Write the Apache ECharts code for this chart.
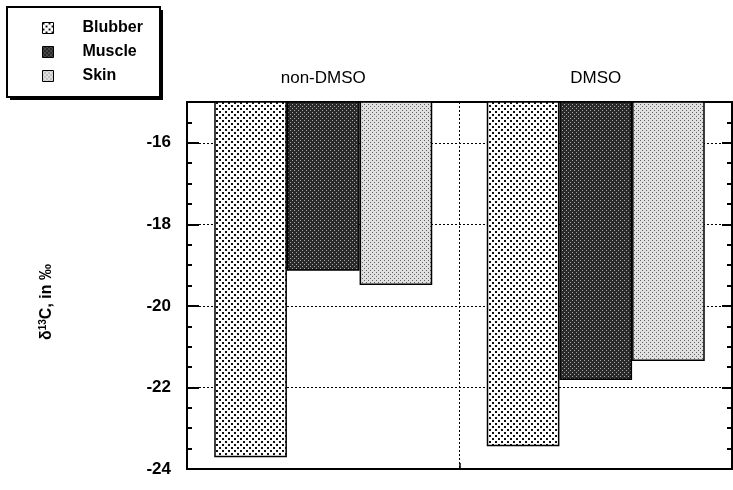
<!DOCTYPE html>
<html>
<head>
<meta charset="utf-8">
<script src="https://cdn.jsdelivr.net/npm/echarts@6/dist/echarts.min.js"></script>
<style>
html, body { margin: 0; padding: 0; background: #fff; }
#chart { width: 733px; height: 490px; }
</style>
</head>
<body>
<div id="chart"></div>
<script>
var groups = ['non-DMSO', 'DMSO'];
var blubber = [-23.71, -23.44];
var muscle = [-19.14, -21.82];
var skin = [-19.49, -21.35];
var seriesNames = ['Blubber', 'Muscle', 'Skin'];

// small stipple tiles to imitate the printed screens
function tile(size, bg, fg, dots, dot) {
    var c = document.createElement('canvas');
    c.width = size; c.height = size;
    var ctx = c.getContext('2d');
    ctx.fillStyle = bg;
    ctx.fillRect(0, 0, size, size);
    ctx.fillStyle = fg;
    dots.forEach(function (d) { ctx.fillRect(d[0], d[1], dot, dot); });
    return c;
}
var blubberFill = { image: tile(6, '#ffffff', '#111111', [[0, 0], [3, 3]], 2), repeat: 'repeat' };
var muscleFill = { image: tile(4, '#2a2a2a', '#a8a8a8', [[0, 0], [2, 2]], 1), repeat: 'repeat' };
var skinFill = { image: tile(4, '#e0e0e0', '#606060', [[0, 0], [2, 2]], 1), repeat: 'repeat' };

var font = 'Liberation Sans, Arial, sans-serif';

var myChart = echarts.init(document.getElementById('chart'));

function barSeries(name, data, fill) {
    return {
        name: name,
        type: 'bar',
        data: data,
        barGap: '0%',
        barCategoryGap: '20%',
        clip: true,
        itemStyle: { color: fill, borderColor: '#000', borderWidth: 1.5 },
        emphasis: { disabled: true }
    };
}

// one axis for long ticks (every 2), one for short ticks (every 0.5), on each side
function yAxisFor(side, step, tickLen, labels) {
    return {
        type: 'value',
        position: side,
        min: -24,
        max: -15,
        interval: step,
        axisLine: { show: true, lineStyle: { color: '#000', width: 2 } },
        axisTick: { show: true, inside: true, length: tickLen, lineStyle: { color: '#000', width: 2 } },
        axisLabel: labels
            ? { showMaxLabel: false, margin: 16, fontFamily: font, fontSize: 17, fontWeight: 'bold', color: '#000' }
            : { show: false },
        splitLine: labels
            ? { show: true, lineStyle: { color: '#000', type: [2, 2], width: 1 } }
            : { show: false }
    };
}

option = {
    animation: false,
    backgroundColor: '#fff',
    grid: { left: 187, right: 1, top: 102, bottom: 21 },
    graphic: [
        { type: 'rect', z: 1, shape: { x: 10, y: 10, width: 153, height: 90 }, style: { fill: '#000' } },
        { type: 'rect', z: 2, shape: { x: 7, y: 7, width: 153, height: 90 }, style: { fill: '#fff', stroke: '#000', lineWidth: 2 } },
        {
            type: 'text', z: 3, x: 47, y: 302, rotation: Math.PI / 2,
            style: {
                text: '{a|δ}{s|13}{a|C, in ‰}',
                align: 'center', verticalAlign: 'middle',
                rich: {
                    a: { fontFamily: font, fontSize: 16, fontWeight: 'bold', fill: '#000' },
                    s: { fontFamily: font, fontSize: 10, fontWeight: 'bold', fill: '#000', verticalAlign: 'top', padding: [0, 0, 8, 0] }
                }
            }
        }
    ],
    legend: {
        z: 5,
        orient: 'vertical',
        left: 42,
        top: 20,
        padding: 0,
        icon: 'rect',
        itemWidth: 11,
        itemHeight: 11,
        itemGap: 8,
        data: seriesNames,
        selectedMode: false,
        itemStyle: { borderColor: '#000', borderWidth: 1 },
        textStyle: { fontFamily: font, fontSize: 16, fontWeight: 'bold', color: '#000', padding: [0, 0, 0, 24] }
    },
    xAxis: [
        {
            type: 'category',
            data: groups,
            position: 'top',
            axisLine: { lineStyle: { color: '#000', width: 2 } },
            axisTick: { show: false },
            axisLabel: { margin: 15, fontFamily: font, fontSize: 17, color: '#000' },
            splitLine: { show: true, lineStyle: { color: '#000', type: [2, 2], width: 1 } }
        },
        {
            type: 'category',
            data: groups,
            position: 'bottom',
            axisLine: { lineStyle: { color: '#000', width: 2 } },
            axisTick: { show: true, inside: true, length: 6, lineStyle: { color: '#000', width: 1.5 } },
            axisLabel: { show: false },
            splitLine: { show: false }
        }
    ],
    yAxis: [
        yAxisFor('left', 2, 12, true),
        yAxisFor('left', 0.5, 5, false),
        yAxisFor('right', 2, 10, false),
        yAxisFor('right', 0.5, 5, false)
    ],
    series: [
        barSeries('Blubber', blubber, blubberFill),
        barSeries('Muscle', muscle, muscleFill),
        barSeries('Skin', skin, skinFill)
    ]
};
myChart.setOption(option);
</script>
</body>
</html>
